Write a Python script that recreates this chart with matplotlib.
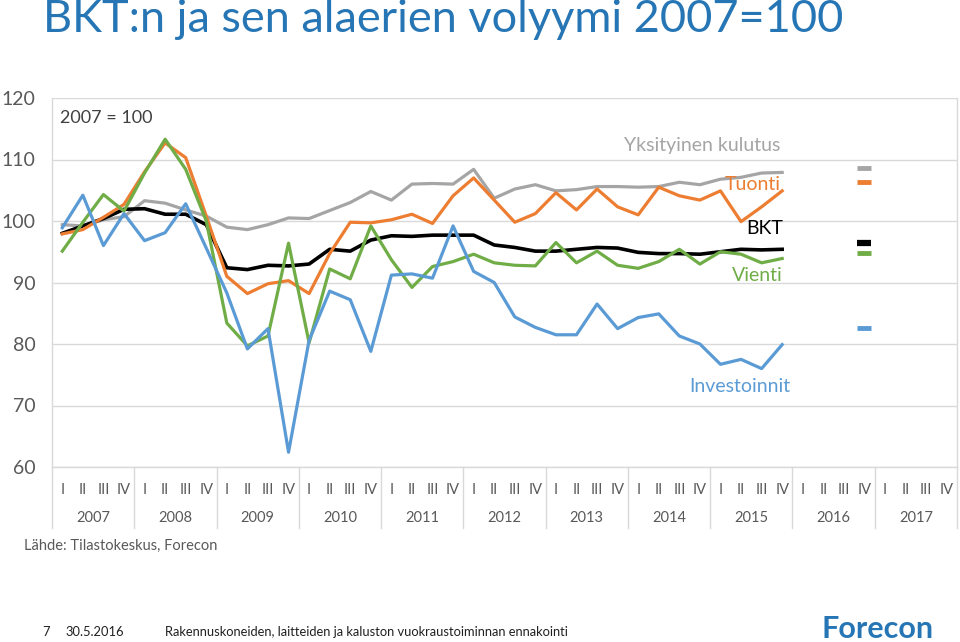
import numpy as np
import matplotlib
matplotlib.use("Agg")
import matplotlib.pyplot as plt

plt.rcParams['font.family'] = ['Lato', 'DejaVu Sans']

# ---------------- data ----------------
years = ['2007', '2008', '2009', '2010', '2011', '2012', '2013', '2014', '2015', '2016', '2017']
quarters = ['I', 'II', 'III', 'IV']

bkt = [98.0, 99.2, 100.4, 101.9, 102.0, 101.1, 101.1, 99.4, 92.4, 92.1, 92.8, 92.7,
       93.0, 95.4, 95.1, 96.9, 97.6, 97.5, 97.7, 97.7, 97.7, 96.1, 95.7, 95.1,
       95.1, 95.4, 95.7, 95.6, 94.9, 94.7, 94.7, 94.6, 95.0, 95.4, 95.3, 95.4]
kulutus = [99.4, 99.2, 100.2, 100.7, 103.3, 102.9, 101.8, 100.8, 99.0, 98.6, 99.4, 100.5,
           100.4, 101.7, 103.0, 104.8, 103.4, 106.0, 106.1, 106.0, 108.4, 103.7, 105.2, 105.9,
           104.9, 105.1, 105.6, 105.6, 105.5, 105.6, 106.3, 105.9, 106.8, 107.1, 107.8, 107.9]
tuonti = [97.9, 98.6, 100.6, 102.7, 108.0, 112.7, 110.3, 100.8, 91.0, 88.2, 89.8, 90.3,
          88.2, 94.7, 99.8, 99.7, 100.2, 101.1, 99.6, 104.1, 107.0, 103.4, 99.8, 101.2,
          104.6, 101.8, 105.2, 102.3, 101.0, 105.5, 104.1, 103.4, 104.9, 99.9, 102.3, 104.9]
vienti = [95.1, 99.8, 104.3, 101.6, 107.8, 113.3, 108.4, 100.0, 83.4, 79.7, 81.3, 96.4,
          80.2, 92.2, 90.6, 99.2, 93.7, 89.2, 92.6, 93.4, 94.6, 93.2, 92.8, 92.7,
          96.5, 93.2, 95.1, 92.8, 92.3, 93.4, 95.4, 93.0, 95.0, 94.6, 93.2, 93.9]
investoinnit = [98.9, 104.2, 96.0, 101.2, 96.8, 98.1, 102.8, 95.6, 88.3, 79.2, 82.5, 62.4,
                80.6, 88.6, 87.2, 78.8, 91.2, 91.4, 90.7, 99.2, 91.8, 90.0, 84.4, 82.7,
                81.5, 81.5, 86.5, 82.5, 84.3, 84.9, 81.3, 80.0, 76.7, 77.5, 76.0, 79.9]

# forecast markers (2016 IV)
ennuste_kulutus = 108.6
ennuste_tuonti = 106.4
ennuste_bkt = 96.5
ennuste_vienti = 94.8
ennuste_invest = 82.6
ennuste_pos = 39  # quarter index

labels = {'kulutus': 'Yksityinen kulutus', 'tuonti': 'Tuonti', 'bkt': 'BKT',
          'vienti': 'Vienti', 'invest': 'Investoinnit'}

c_gray = '#A5A5A5'
c_orange = '#ED7D31'
c_black = '#000000'
c_green = '#70AD47'
c_blue = '#5B9BD5'
c_text = '#595959'
c_grid = '#D9D9D9'

W, H = 960, 642
fig = plt.figure(figsize=(W / 100, H / 100), dpi=100)
L, R, T, B = 52, 957, 98, 467
ax = fig.add_axes([L / W, 1 - B / H, (R - L) / W, (B - T) / H])

nq = len(years) * 4
x = np.arange(len(bkt)) + 0.5
lw = 2.3
ax.plot(x, kulutus, color=c_gray, lw=lw, solid_joinstyle='round', zorder=3)
ax.plot(x, bkt, color=c_black, lw=2.6, solid_joinstyle='round', zorder=4)
ax.plot(x, tuonti, color=c_orange, lw=lw, solid_joinstyle='round', zorder=5)
ax.plot(x, vienti, color=c_green, lw=lw, solid_joinstyle='round', zorder=6)
ax.plot(x, investoinnit, color=c_blue, lw=lw, solid_joinstyle='round', zorder=7)

xp = ennuste_pos + 0.5
for v, c, mw in [(ennuste_kulutus, c_gray, 3.5), (ennuste_tuonti, c_orange, 3.5),
                 (ennuste_bkt, c_black, 4.5), (ennuste_vienti, c_green, 3.5),
                 (ennuste_invest, c_blue, 3.5)]:
    ax.plot([xp], [v], marker='_', ms=10, mew=mw, color=c, zorder=8)

ax.set_xlim(0, nq)
ax.set_ylim(60, 120)
ax.set_yticks(range(60, 121, 10))
ax.yaxis.grid(True, color=c_grid, lw=1)
ax.set_axisbelow(True)
ax.spines['top'].set_visible(False)
for s in ['left', 'right', 'bottom']:
    ax.spines[s].set_color(c_grid)
    ax.spines[s].set_linewidth(1)
ax.tick_params(axis='y', length=0, labelsize=14, labelcolor=c_text, pad=12)
ax.set_xticks([])

tr = ax.get_xaxis_transform()
ph = B - T
for i in range(nq):
    ax.text(i + 0.5, -23 / ph, quarters[i % 4], transform=tr, ha='center', va='center',
            fontsize=10.5, color=c_text)
for k, y in enumerate(years):
    ax.text(4 * k + 2, -51 / ph, y, transform=tr, ha='center', va='center',
            fontsize=10.5, color=c_text)
for k in range(len(years) + 1):
    ax.plot([4 * k, 4 * k], [0, -61 / ph], transform=tr, color=c_grid, lw=1,
            clip_on=False)

def dx(px):
    return (px - L) / ((R - L) / nq)

def dy(py):
    return 120 - (py - T) / ((B - T) / 60)

ax.text(dx(60), dy(118), '2007 = 100', fontsize=13, color='#404040', va='center', ha='left')
ax.text(dx(780), dy(145), labels['kulutus'], fontsize=14, color=c_gray, va='center', ha='right')
ax.text(dx(781), dy(184), labels['tuonti'], fontsize=14, color=c_orange, va='center', ha='right')
ax.text(dx(783), dy(228), labels['bkt'], fontsize=14, color=c_black, va='center', ha='right')
ax.text(dx(783), dy(276), labels['vienti'], fontsize=14, color=c_green, va='center', ha='right')
ax.text(dx(790), dy(386), labels['invest'], fontsize=14, color=c_blue, va='center', ha='right')

fig.text(43 / W, 1 - 20 / H, 'BKT:n ja sen alaerien volyymi 2007=100', fontsize=32.5,
         color='#2676B5', va='center', ha='left')
fig.text(24 / W, 1 - 546 / H, 'Lähde: Tilastokeskus, Forecon', fontsize=10.5,
         color=c_text, va='center', ha='left')
fig.text(42 / W, 1 - 632 / H, '7', fontsize=9.3, color='#202020', va='center', ha='left')
fig.text(65 / W, 1 - 632 / H, '30.5.2016', fontsize=9.3, color='#202020', va='center', ha='left')
fig.text(165 / W, 1 - 632 / H,
         'Rakennuskoneiden, laitteiden ja kaluston vuokraustoiminnan ennakointi',
         fontsize=9.3, color='#202020', va='center', ha='left')
fig.text(822 / W, 1 - 629 / H, 'Forecon', fontsize=22, fontweight='bold',
         color='#2676B5', va='center', ha='left')

fig.savefig('out.png', dpi=100)
